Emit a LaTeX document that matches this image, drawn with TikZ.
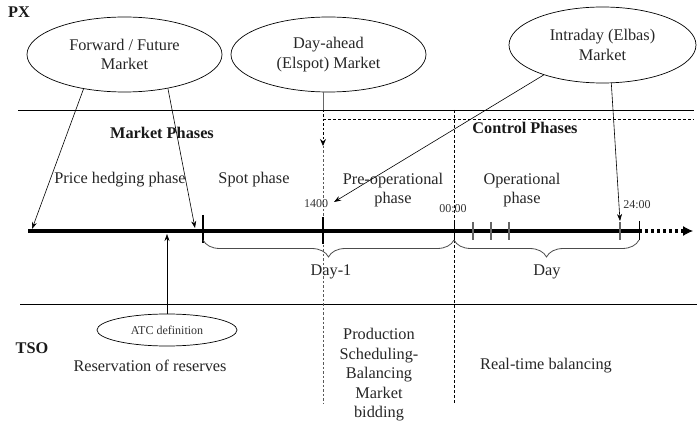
\documentclass[tikz,border=0pt]{standalone}
\usepackage{fontspec}
\setmainfont{Liberation Serif}
\usetikzlibrary{shapes.geometric,arrows.meta,decorations.pathreplacing}
\begin{document}
\begin{tikzpicture}[x=1pt,y=-1pt,
  txt/.style={font=\fontsize{16.3}{19.5}\selectfont, text=black!85, align=center, inner sep=0pt},
  btxt/.style={font=\fontsize{16.3}{19.5}\selectfont\bfseries, text=black!90, inner sep=0pt},
  small/.style={font=\fontsize{12}{14}\selectfont, text=black!80, inner sep=0pt},
  mkt/.style={ellipse, draw, line width=0.7pt, inner sep=0pt, font=\fontsize{16.3}{19.5}\selectfont, text=black!85, align=center},
  conn/.style={line width=0.6pt, -{Stealth[length=7pt,width=5pt]}},
  sepline/.style={line width=0.8pt},
  dline/.style={line width=0.7pt, dash pattern=on 3pt off 2pt},
  gtick/.style={line width=1.2pt, black!60},
  btick/.style={line width=2.6pt},
  bracestyle/.style={decorate, decoration={brace, amplitude=17pt, mirror}, line width=0.8pt, black!70}
]
\useasboundingbox (0,0) rectangle (697,425);

% headings
\node[btxt] (px) at (19,12) {PX};
\node[btxt] (tso) at (32,348) {TSO};
\node[btxt] (mp) at (162,133) {Market Phases};
\node[btxt] (cp) at (525,128) {Control Phases};

% market ellipses
\node[mkt, minimum width=195pt, minimum height=75pt] (fwd) at (124.5,54.5) {Forward / Future\\Market};
\node[mkt, minimum width=195pt, minimum height=75pt] (da) at (328.5,54.5) {Day-ahead\\(Elspot) Market};
\node[mkt, minimum width=187pt, minimum height=76pt] (ib) at (602.5,45) {Intraday (Elbas)\\Market};
\node[ellipse, draw, line width=0.7pt, minimum width=140pt, minimum height=32pt, inner sep=0pt, small] (atc) at (167,330) {ATC definition};

% separator lines
\coordinate (pxL) at (18,110);
\coordinate (pxR) at (694,110);
\coordinate (tsoL) at (20,304);
\coordinate (tsoR) at (697,304);
\draw[sepline] (pxL) -- (pxR);
\draw[sepline] (tsoL) -- (tsoR);

% control phases dashed frame
\coordinate (cpL) at (323,119);
\coordinate (cpR) at (694,119);
\draw[dline] (cpL) -- (cpR);
\coordinate (midT) at (454,110);
\coordinate (midB) at (454,403);
\draw[dline] (midT) -- (midB);

% day-ahead vertical
\coordinate (daB) at (323,92);
\coordinate (daL) at (323,110);
\coordinate (daA) at (323,146);
\coordinate (daE) at (323,403);
\draw[line width=0.8pt, black!60] (daB) -- (daL);
\draw[line width=0.8pt, black!65, dash pattern=on 2.5pt off 2pt] (daL) -- (daE);
\draw[line width=0.8pt, dash pattern=on 2.5pt off 2pt, -{Stealth[length=7pt,width=6pt]}] (daL) -- (daA);

% timeline
\coordinate (tl0) at (28,231);
\coordinate (tl1) at (639,231);
\coordinate (tl2) at (693,231);
\draw[line width=3.6pt] (tl0) -- (tl1);
\draw[line width=3.2pt, dash pattern=on 3pt off 3pt] (tl1) -- ([xshift=-10pt]tl2);
\draw[line width=1pt, -{Latex[length=10pt,width=10pt]}] ([xshift=-11pt]tl2) -- (tl2);

% ticks
\draw[btick] (203,215) -- (203,243);
\draw[btick] (323,217) -- (323,244);
\draw[line width=0.8pt] (454,221) -- (454,240);
\draw[gtick] (473,222) -- (473,240);
\draw[gtick] (491,222) -- (491,240);
\draw[gtick] (509,222) -- (509,240);
\draw[gtick] (620,222) -- (620,240);
\draw[line width=0.8pt] (639,221) -- (639,240);

% braces
\coordinate (b1a) at (203,240);
\coordinate (b1b) at (454,240);
\coordinate (b2a) at (454,240);
\coordinate (b2b) at (639,240);
\draw[bracestyle] (b1a) -- (b1b);
\draw[bracestyle] (b2a) -- (b2b);
\node[txt] (d1) at (331,272) {Day-1};
\node[txt] (d) at (547,272) {Day};

% time labels
\node[small] (t14) at (316,204) {1400};
\node[small] (t00) at (453,209) {00:00};
\node[small] (t24) at (637,205) {24:00};

% phase labels
\node[txt] (ph) at (120,180) {Price hedging phase};
\node[txt] (sp) at (254,180) {Spot phase};
\node[txt] (pre) at (393,190) {Pre-operational\\phase};
\node[txt] (op) at (522,190) {Operational\\phase};

% TSO labels
\node[txt] (res) at (150,366) {Reservation of reserves};
\node[txt] (prod) at (379,375) {Production\\Scheduling-\\Balancing\\Market\\bidding};
\node[txt] (rtb) at (546,366) {Real-time balancing};

% connectors
\coordinate (fa1) at (32,229);
\coordinate (fa2) at (195,228);
\coordinate (ia1) at (334,202);
\coordinate (ia2) at (620,221);
\coordinate (atcT) at (167,234);
\draw[conn] (fwd.220) -- (fa1);
\draw[conn] (fwd.322) -- (fa2);
\draw[conn] (ib.207) -- (ia1);
\draw[conn] (ib.283) -- (ia2);
\draw[conn] (atc.north) -- (atcT);
\end{tikzpicture}
\end{document}
